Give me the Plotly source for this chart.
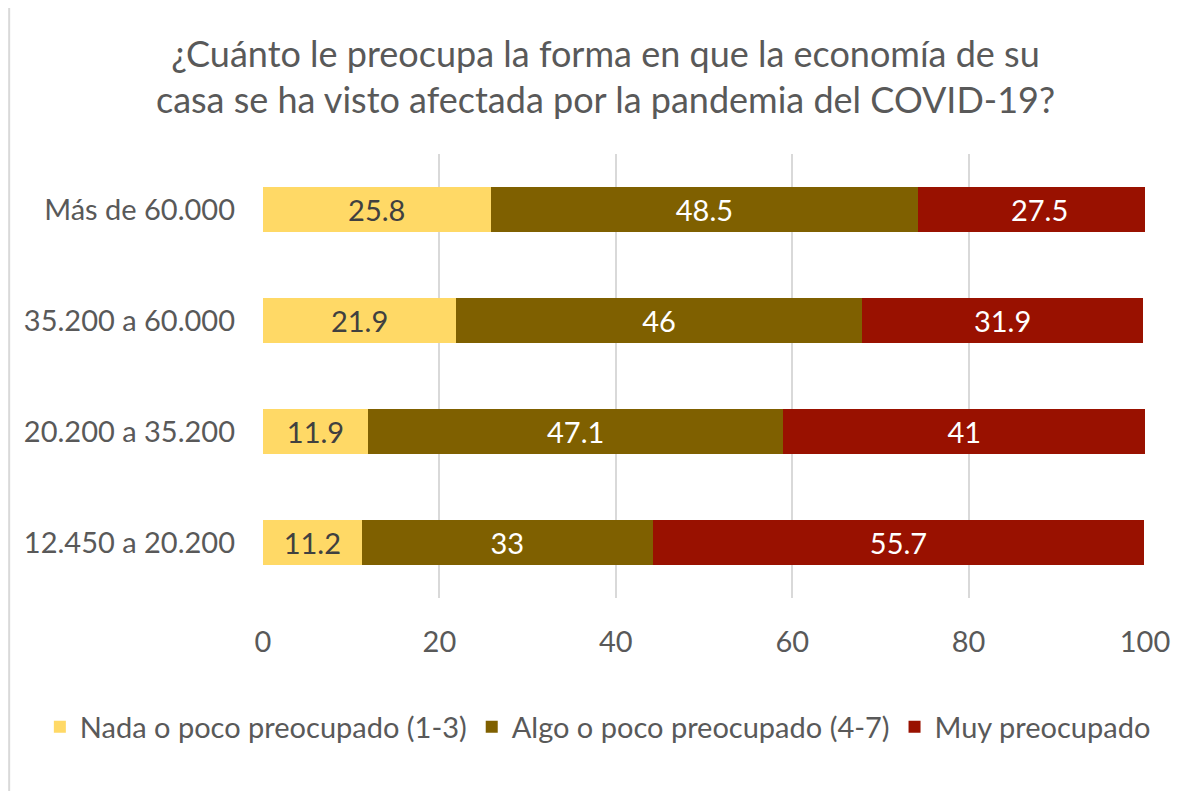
import plotly.graph_objects as go

# Income brackets (bottom to top, as drawn)
categories = ['12.450 a 20.200', '20.200 a 35.200', '35.200 a 60.000', 'Más de 60.000']

nada = [11.2, 11.9, 21.9, 25.8]
algo = [33, 47.1, 46, 48.5]
muy = [55.7, 41, 31.9, 27.5]

series_names = ['Nada o poco preocupado (1-3)', 'Algo o poco preocupado (4-7)', 'Muy preocupado']
x_ticks = [0, 20, 40, 60, 80, 100]

FONT = 'Lato'
GREY = '#595959'
FS = 29

fig = go.Figure()

fig.add_trace(go.Bar(
    y=categories, x=nada, name=series_names[0], orientation='h',
    marker=dict(color='#FFD966', line=dict(width=0)),
    text=nada, textposition='inside', insidetextanchor='middle',
    textfont=dict(color='#404040', size=FS, family=FONT),
))
fig.add_trace(go.Bar(
    y=categories, x=algo, name=series_names[1], orientation='h',
    marker=dict(color='#7F6000', line=dict(width=0)),
    text=algo, textposition='inside', insidetextanchor='middle',
    textfont=dict(color='white', size=FS, family=FONT),
))
fig.add_trace(go.Bar(
    y=categories, x=muy, name=series_names[2], orientation='h',
    marker=dict(color='#991100', line=dict(width=0)),
    text=muy, textposition='inside', insidetextanchor='middle',
    textfont=dict(color='white', size=FS, family=FONT),
))

# light border on the left edge of the chart area
fig.add_shape(type='line', xref='paper', yref='paper',
              x0=-0.2878, x1=-0.2878, y0=-0.46, y1=1.34,
              line=dict(color='#D9D9D9', width=2))

fig.update_layout(
    barmode='stack',
    bargap=0.6,
    width=1195,
    height=791,
    paper_bgcolor='white',
    plot_bgcolor='white',
    font=dict(family=FONT, color=GREY, size=FS),
    title=dict(
        text='¿Cuánto le preocupa la forma en que la economía de su<br>casa se ha visto afectada por la pandemia del COVID-19?',
        x=0.5, xanchor='center', y=0.926, yanchor='middle',
        font=dict(size=36, color=GREY, family=FONT),
    ),
    legend=dict(
        orientation='h', x=-0.253, xanchor='left',
        y=-0.2905, yanchor='middle',
        font=dict(size=FS, color=GREY, family=FONT),
        traceorder='normal',
    ),
    margin=dict(l=255, r=58, t=146, b=201),
    showlegend=True,
)

fig.update_xaxes(
    range=[0, 100], tickvals=x_ticks,
    showgrid=True, gridcolor='#D9D9D9', gridwidth=1.5,
    zeroline=False, showline=False, ticks='',
    ticklabelstandoff=24,
    tickfont=dict(size=FS, color=GREY),
)
fig.update_yaxes(
    showgrid=False, zeroline=False, showline=False, ticks='',
    ticklabelstandoff=27,
    tickfont=dict(size=FS, color=GREY),
)

fig.write_html('out.html')
